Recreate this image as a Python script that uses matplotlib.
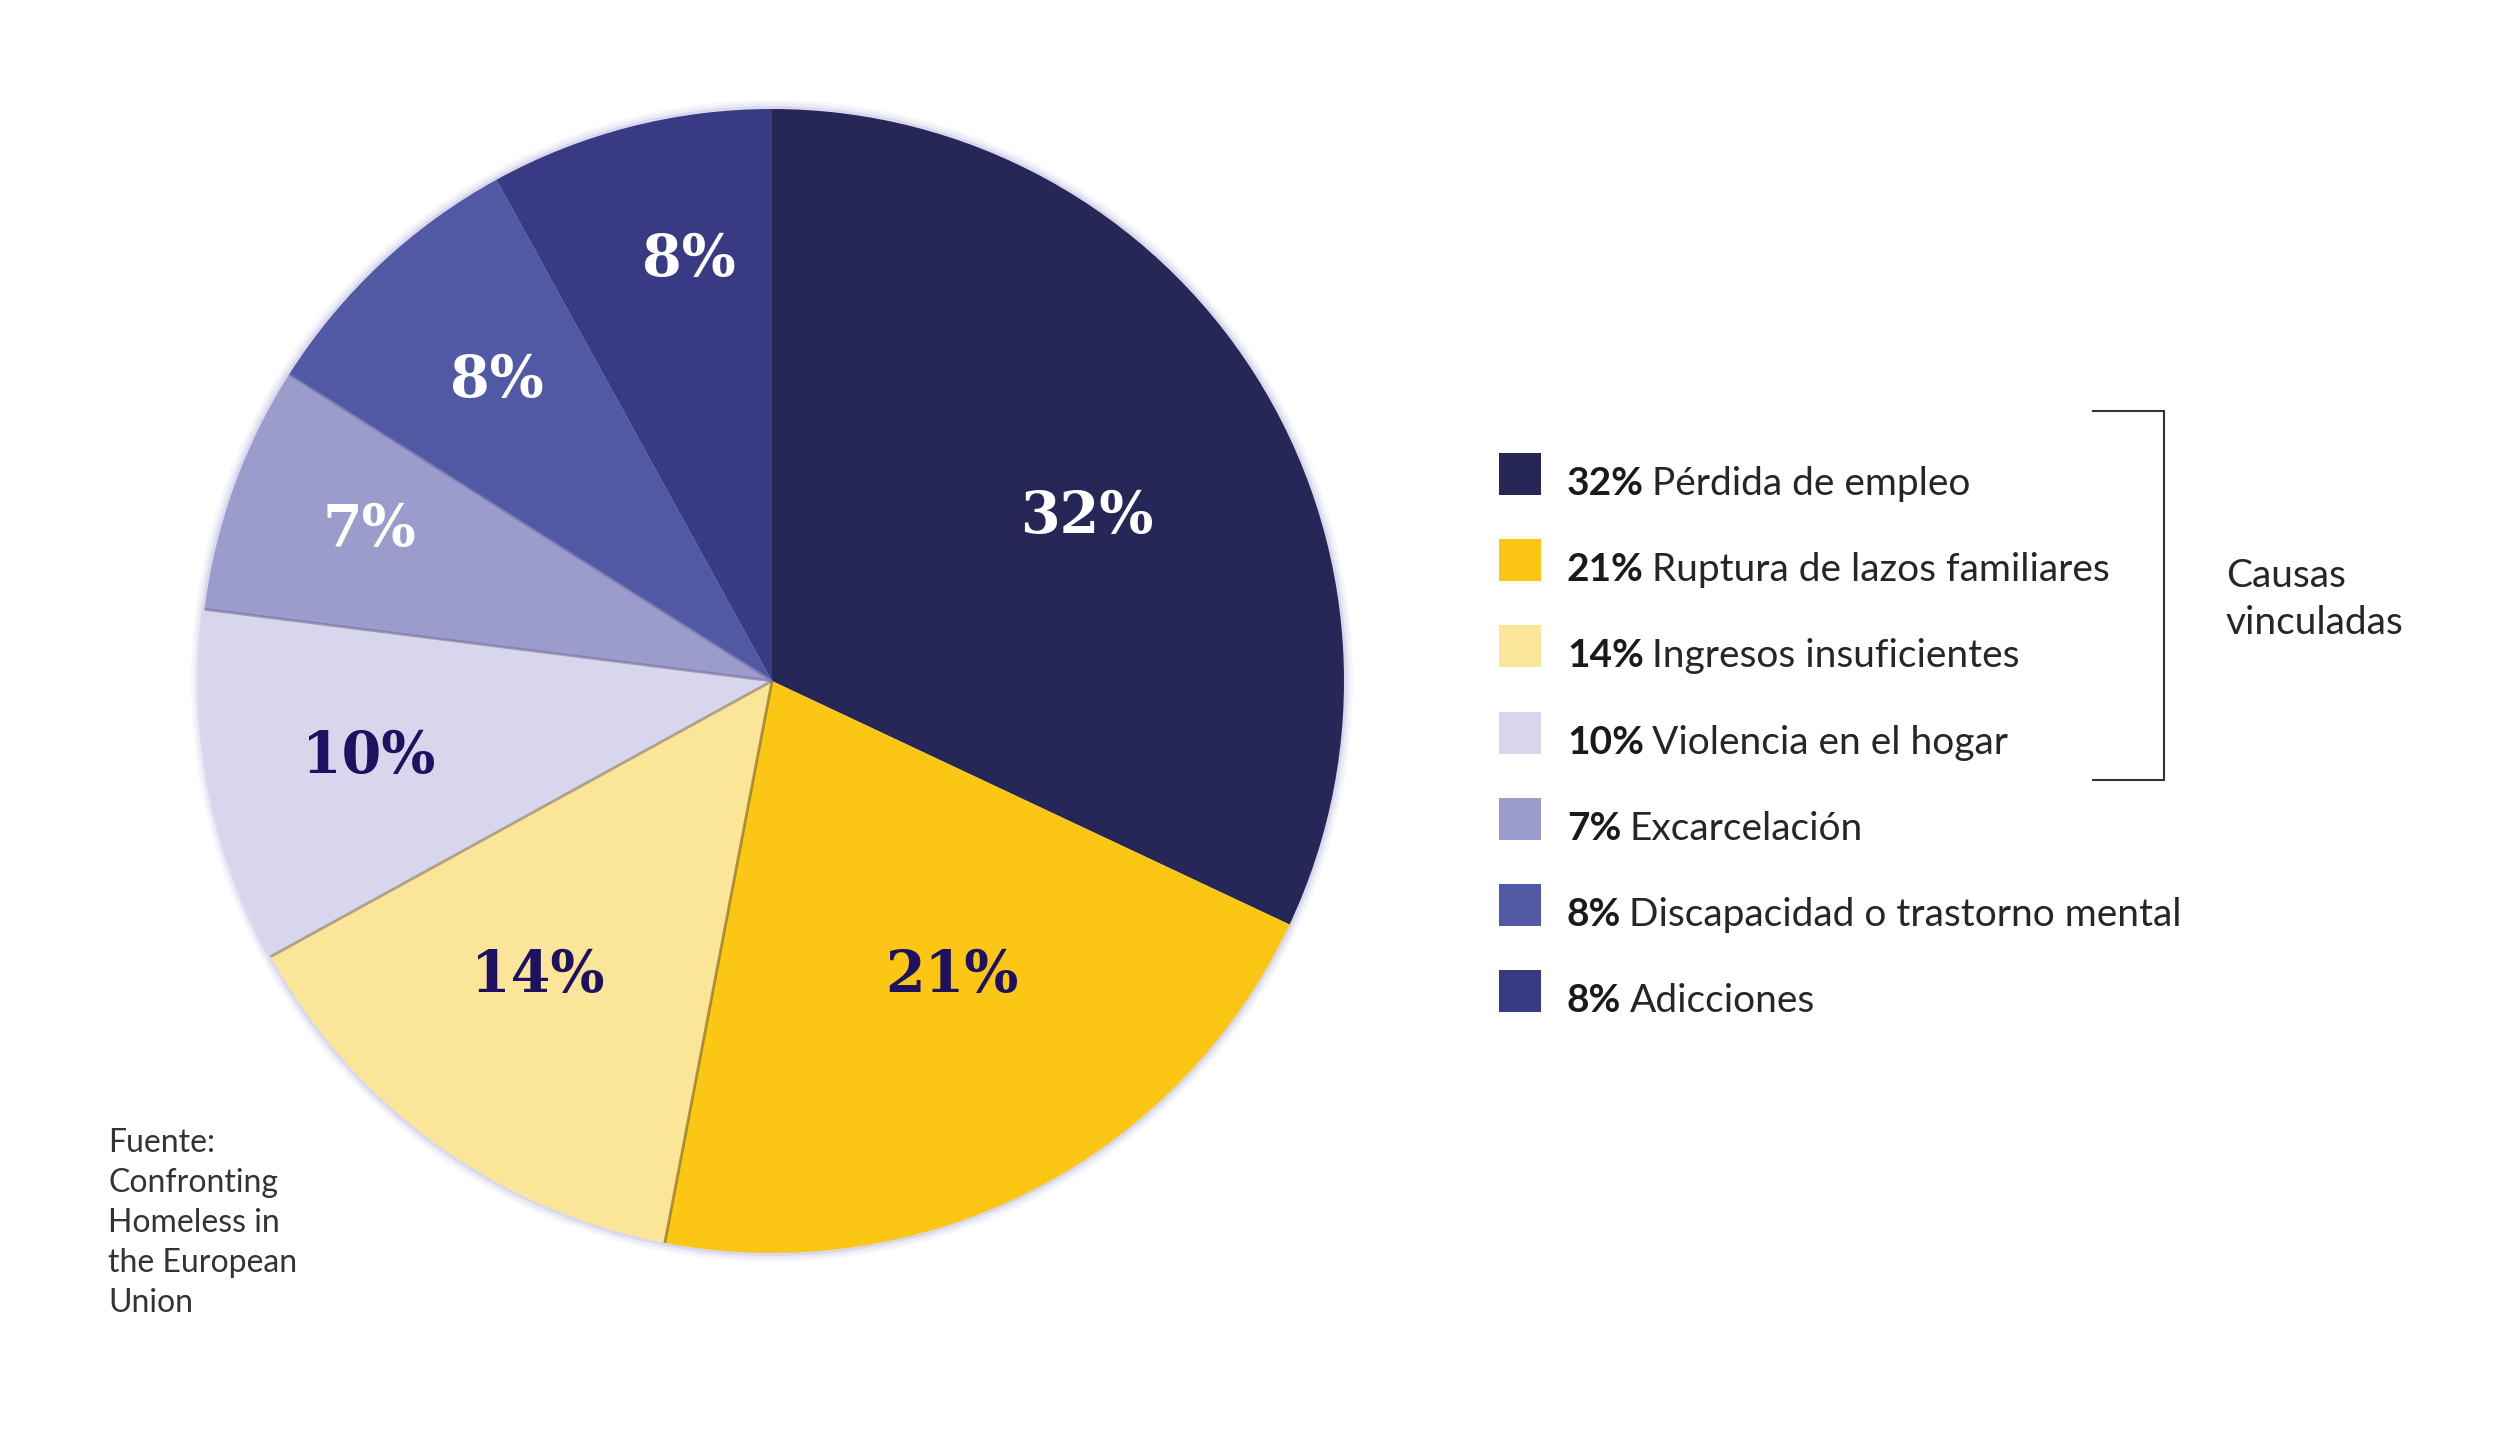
import numpy as np
import matplotlib
matplotlib.use("Agg")
import matplotlib.pyplot as plt
from matplotlib.patches import Rectangle, Circle

# data
values = [32, 21, 14, 10, 7, 8, 8]
pct_labels = ["32%", "21%", "14%", "10%", "7%", "8%", "8%"]
causes = ["Pérdida de empleo", "Ruptura de lazos familiares", "Ingresos insuficientes",
          "Violencia en el hogar", "Excarcelación", "Discapacidad o trastorno mental",
          "Adicciones"]
colors = ["#272757", "#FBC614", "#FAE598", "#D8D6EC", "#9B9CCB", "#5159A5", "#383B83"]
label_colors = ["white", "#1D1160", "#1D1160", "#1D1160", "white", "white", "white"]
# label placement (fraction of radius, angle shift in degrees)
label_dist = [0.625, 0.595, 0.65, 0.715, 0.755, 0.72, 0.76]
label_shift = [-4, 5, -3, -1, -1.5, -1.2, -3.4]
source = "Fuente:\nConfronting\nHomeless in\nthe European\nUnion"

W, H = 2500, 1453
fig = plt.figure(figsize=(W / 100, H / 100), dpi=100)
ax = fig.add_axes([0, 0, 1, 1])

cx, cy, r = 772, H - 681, 572

# soft edge glow around the pie
for k, a in [(9, 0.10), (6, 0.18), (3, 0.35)]:
    ax.add_patch(Circle((cx, cy), r + k, facecolor="#b9b6e0", edgecolor="none", alpha=a, zorder=1))

wedges, _ = ax.pie(values, colors=colors, startangle=90, counterclock=False,
                   center=(cx, cy), radius=r, frame=True,
                   wedgeprops=dict(edgecolor="none", zorder=2))
ax.set_xlim(0, W)
ax.set_ylim(0, H)
ax.set_aspect("equal")
ax.axis("off")

# faint shadow lines on some boundaries
shadow = {1: "#7a5d1a", 2: "#8a7a5a", 3: "#7b6f9a", 4: "#7f7cb0"}
for i, c in shadow.items():
    th = np.deg2rad(wedges[i].theta1)
    ax.plot([cx, cx + r * np.cos(th)], [cy, cy + r * np.sin(th)], color=c,
            lw=2, alpha=0.6, zorder=3, solid_capstyle="butt")

for w, lab, col, d, s in zip(wedges, pct_labels, label_colors, label_dist, label_shift):
    mid = np.deg2rad((w.theta1 + w.theta2) / 2 + s)
    ax.text(cx + d * r * np.cos(mid), cy + d * r * np.sin(mid), lab,
            ha="center", va="center_baseline", color=col, fontsize=41,
            fontweight="bold", family="DejaVu Serif", zorder=4)

# legend
fig.canvas.draw()
renderer = fig.canvas.get_renderer()
sq_x, sq_w = 1499, 42
for i, (p, c, col) in enumerate(zip(pct_labels, causes, colors)):
    base = H - (495 + 86.2 * i)
    ax.add_patch(Rectangle((sq_x, base), sq_w, sq_w, facecolor=col, edgecolor="none"))
    t = ax.text(1567, base, p, ha="left", va="baseline", fontsize=28,
                fontweight="bold", family="Lato", color="#1a1a1a")
    bb = t.get_window_extent(renderer=renderer)
    ax.text(bb.x1 + 8, base, c, ha="left", va="baseline", fontsize=28,
            fontweight="normal", family="Lato", color="#262626")

# bracket
bx0, bx1, by0, by1 = 2093, 2164, H - 411, H - 780
ax.plot([bx0, bx1, bx1, bx0], [by0, by0, by1, by1], color="#333333", lw=1.5,
        solid_joinstyle="miter")
ax.text(2226, H - 587, "Causas", ha="left", va="baseline", fontsize=28,
        fontweight="normal", family="Lato", color="#262626")
ax.text(2226, H - 634, "vinculadas", ha="left", va="baseline", fontsize=28,
        fontweight="normal", family="Lato", color="#262626")

# source
ax.text(108, H - 1128, source, ha="left", va="top", fontsize=23,
        fontweight="normal", family="Lato", color="#333333", linespacing=1.42)

fig.savefig("out.png", dpi=100, facecolor="white")
